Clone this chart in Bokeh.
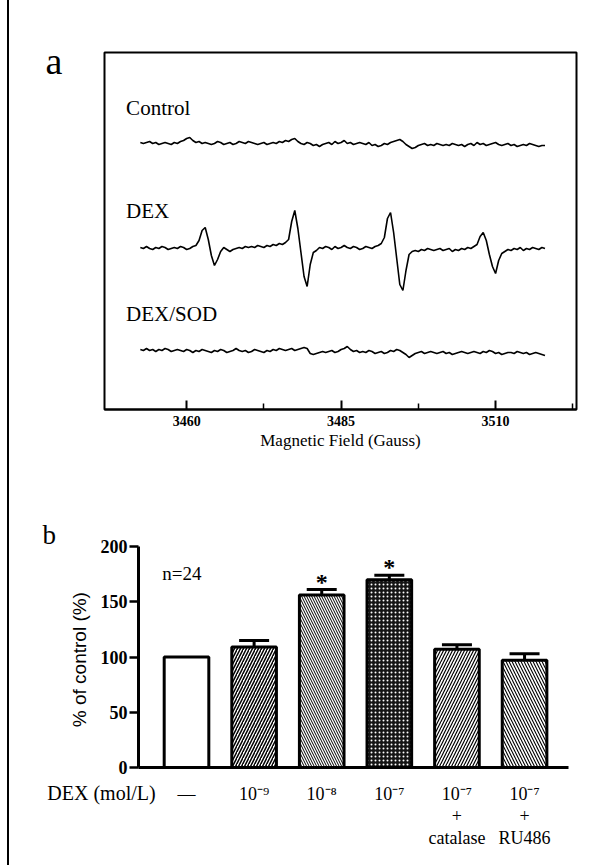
import numpy as np
from bokeh.plotting import figure
from bokeh.models import ColumnDataSource, FixedTicker, Label, Whisker, TeeHead, Range1d
from bokeh.embed import file_html
from bokeh.resources import INLINE
from bokeh.core.properties import value

SERIF = "Liberation Serif"
SANS = "Liberation Sans"

# ---------------- Panel a: EPR spectra ----------------
FIELD_START = 3452.5   # Gauss, first sample of the sweep
FIELD_STEP = 0.5       # Gauss per sample

# signal offsets (arbitrary units, up = positive)
control_trace = [
    1, 0, 1, 2, 0, 1, -1, 0, 1, 0, -1, 1,
    0, 2, 3, 5, 6, 3, 1, 2, 0, 1, 0, -1,
    0, 2, 1, -1, 0, 1, -1, 0, 2, 1, 0, 2,
    1, 0, -1, 0, 1, -1, 0, 1, 0, 2, 1, 3,
    2, 4, 5, 2, 0, -1, 1, 0, -2, -1, -3, -1,
    0, 1, -1, 2, 0, 1, 3, 0, 1, -1, 0, 1,
    0, -1, 1, -2, -1, -3, -2, 0, -1, 1, 2, 3,
    4, 2, -1, -3, -5, -4, -2, -1, 0, -2, -1, -2,
    0, -1, -2, -1, -2, 0, -1, -2, -1, -3, -1, 0,
    -2, 1, -1, 0, -2, -1, 0, 1, -1, -2, -1, 0,
    -2, -1, -3, -2, -1, -2, 0, -1, -2, -3, -2, -2,
]
dex_trace = [
    1, 0, 2, 0, -1, 1, 0, 2, 1, -1, 0, 1,
    0, 2, 1, -1, 0, 2, 3, 8, 18, 21, 9, -7,
    -17, -11, -3, 1, -1, -3, -1, 0, 1, 0, 2, 1,
    2, 1, 3, 2, 1, 3, 2, 4, 3, 5, 4, 6,
    9, 27, 38, 20, -4, -28, -38, -16, -4, -2, 1, 0,
    2, 1, -1, 2, 0, 1, 3, 1, 0, 2, 1, -1,
    0, 2, 1, 0, 2, 3, 5, 11, 30, 36, 16, -10,
    -36, -42, -22, -6, -3, -2, -3, -1, -2, 0, -1, -2,
    -1, 0, -2, -1, 0, -3, -1, -2, 0, -1, 1, 0,
    2, 4, 12, 16, 8, -6, -18, -25, -12, -5, -3, -1,
    -2, 0, -1, 1, -2, 0, -1, 1, 0, -1, 1, 0,
]
dexsod_trace = [
    2, 1, 3, 1, 2, 0, 2, 1, 3, 2, 0, 1,
    2, 1, 0, 2, 1, -1, 1, 0, 2, 1, 0, -1,
    1, 0, 2, 1, -1, 0, 1, 3, 1, 0, 1, -1,
    0, 2, 1, 0, -1, 1, 0, 2, 1, 3, 2, 1,
    2, 3, 1, 2, 3, 4, 3, -2, -3, -2, -1, 0,
    -1, 0, 1, -1, 0, 2, 3, 5, 2, 0, 1, -1,
    0, -1, 1, 0, -2, -1, 0, -2, -1, 1, 0, 2,
    1, -1, -3, -6, -4, -2, -1, 0, -2, -1, 0, -1,
    -2, -1, 0, -2, -1, -3, -2, -1, 0, -1, -2, -1,
    0, -1, -2, 0, -1, 1, 0, -2, -1, -3, -2, -1,
    -1, -2, 0, -1, -2, -1, -3, -2, -1, -2, -3, -4,
]
trace_names = ["Control", "DEX", "DEX/SOD"]
trace_baselines = [266, 161, 58]
trace_label_y = [302, 199, 96]
trace_label_x = 3450.2
field_ticks = [3460, 3485, 3510]
field_minor_ticks = [3472.5, 3497.5, 3522.5]

# ---------------- Panel b: bar chart ----------------
conditions = ["\u2014", "10\u207b\u2079", "10\u207b\u2078", "10\u207b\u2077", "10\u207b\u2077", "10\u207b\u2077"]
additions = ["", "", "", "", "catalase", "RU486"]
percent = [100, 109, 156, 170, 107, 97]
sem = [0, 6, 5, 4, 4, 6]
significant = [False, False, True, True, False, False]
y_ticks = [0, 50, 100, 150, 200]

# styles (kept separate from data)
bar_fill = ["white", "white", "white", "#151515", "white", "white"]
bar_hatch = [" ", "/", "\\", ".", "/", "\\"]
bar_hatch_color = ["black", "black", "black", "white", "black", "black"]
bar_hatch_scale = [6, 6, 5, 4, 6, 6]
bar_hatch_weight = [1, 1.5, 1, 1, 1.2, 1.1]

PAGE_EDGE = {"border-left": "2px solid black"}

# ======================= figure a =======================
pa = figure(width=590, height=470,
            x_range=Range1d(3446.7, 3523.1), y_range=Range1d(0, 357),
            output_backend="svg", toolbar_location=None,
            title_location=None, y_axis_location=None,
            min_border_left=95, min_border_right=23,
            min_border_top=52, min_border_bottom=61,
            margin=(0, 0, 0, 7), styles=PAGE_EDGE)
pa.grid.visible = False
pa.outline_line_color = "black"
pa.outline_line_width = 2
pa.background_fill_color = "white"
pa.border_fill_color = "white"

field = FIELD_START + FIELD_STEP * np.arange(len(control_trace))
for trace, base in zip([control_trace, dex_trace, dexsod_trace], trace_baselines):
    pa.line(field, np.array(trace, dtype=float) + base, line_color="black", line_width=1.6)

pa.text(x=[trace_label_x] * 3, y=trace_label_y, text=trace_names,
        text_font=value(SERIF), text_font_size="21px",
        text_align="left", text_baseline="middle", text_color="black")

xa = pa.xaxis[0]
xa.ticker = FixedTicker(ticks=field_ticks, minor_ticks=field_minor_ticks)
xa.axis_line_width = 2
xa.major_tick_in = 9
xa.major_tick_out = 0
xa.major_tick_line_width = 2
xa.minor_tick_in = 6
xa.minor_tick_out = 0
xa.minor_tick_line_width = 1.5
xa.major_label_text_font = SERIF
xa.major_label_text_font_style = "bold"
xa.major_label_text_font_size = "14px"
xa.major_label_text_color = "black"
xa.major_label_standoff = 6
xa.axis_label = "Magnetic Field (Gauss)"
xa.axis_label_text_font = SERIF
xa.axis_label_text_font_style = "normal"
xa.axis_label_text_font_size = "17px"
xa.axis_label_text_color = "black"
xa.axis_label_standoff = 2

# panel letter, placed in the top side panel (coordinates relative to that panel)
pa.add_layout(Label(x=-59, y=-8, x_units="screen", y_units="screen", text="a",
                    text_font=SERIF, text_font_size="38px", text_baseline="alphabetic",
                    text_color="black"), "above")

# ======================= figure b =======================
pb = figure(width=590, height=395,
            x_range=Range1d(0.29, 6.65), y_range=Range1d(0, 200),
            output_backend="svg", toolbar_location=None,
            title_location=None,
            min_border_left=129, min_border_right=31,
            min_border_top=76, min_border_bottom=98,
            margin=(0, 0, 0, 7), styles=PAGE_EDGE)
pb.grid.visible = False
pb.outline_line_color = None
pb.background_fill_color = "white"
pb.border_fill_color = "white"

xs = list(range(1, len(percent) + 1))
src = ColumnDataSource(dict(x=xs, top=percent, fill=bar_fill, hatch=bar_hatch,
                            hcolor=bar_hatch_color, hscale=bar_hatch_scale,
                            hweight=bar_hatch_weight))
pb.vbar(x="x", top="top", bottom=0, width=0.66, source=src,
        fill_color="fill", hatch_pattern="hatch", hatch_color="hcolor",
        hatch_scale="hscale", hatch_weight="hweight",
        line_color="black", line_width=3)

ex = [x for x, e in zip(xs, sem) if e > 0]
elo = [v for v, e in zip(percent, sem) if e > 0]
ehi = [v + e for v, e in zip(percent, sem) if e > 0]
esrc = ColumnDataSource(dict(x=ex, lower=elo, upper=ehi))
pb.add_layout(Whisker(base="x", lower="lower", upper="upper", source=esrc,
                      dimension="height", line_color="black", line_width=3,
                      upper_head=TeeHead(size=30, line_width=3, line_color="black"),
                      lower_head=None, level="overlay"))

sx = [x for x, s in zip(xs, significant) if s]
sy = [v + e for v, e, s in zip(percent, sem, significant) if s]
pb.text(x=sx, y=sy, text=["*"] * len(sx), text_font=value(SERIF),
        text_font_style="bold", text_font_size="24px", y_offset=-8,
        text_align="center", text_baseline="alphabetic", text_color="black")

pb.add_layout(Label(x=0.93, y=175.5, text="n=24", text_font=SERIF, text_font_size="19px",
                    text_align="center", text_baseline="alphabetic", text_color="black"))

tick_text = [c + ("\n+\n" + a if a else "") for c, a in zip(conditions, additions)]

xb = pb.xaxis[0]
xb.ticker = FixedTicker(ticks=xs)
xb.major_label_overrides = {x: t for x, t in zip(xs, tick_text)}
xb.axis_line_width = 3
xb.major_tick_in = 0
xb.major_tick_out = 0
xb.minor_tick_line_color = None
xb.major_label_text_font = SERIF
xb.major_label_text_font_size = "18px"
xb.major_label_text_line_height = 1.1
xb.major_label_text_color = "black"
xb.major_label_standoff = 16

yb = pb.yaxis[0]
yb.ticker = FixedTicker(ticks=y_ticks)
yb.axis_line_width = 3
yb.major_tick_in = 0
yb.major_tick_out = 9
yb.major_tick_line_width = 2.5
yb.minor_tick_line_color = None
yb.major_label_text_font = SERIF
yb.major_label_text_font_style = "bold"
yb.major_label_text_font_size = "18px"
yb.major_label_text_color = "black"
yb.major_label_standoff = 2
yb.axis_label = "%  of control (%)"
yb.axis_label_text_font = SANS
yb.axis_label_text_font_style = "normal"
yb.axis_label_text_font_size = "19px"
yb.axis_label_text_color = "black"
yb.axis_label_standoff = 8

# row title for the treatment labels; it sits in the top side panel (closest to
# the frame) so it takes no room from the bottom panel, and is drawn below it
pb.add_layout(Label(x=-37, y=-246, x_units="screen", y_units="screen", text="DEX (mol/L)",
                    text_font=SERIF, text_font_size="20px",
                    text_align="center", text_baseline="middle", text_color="black"), "above")
pb.add_layout(Label(x=-96, y=-10, x_units="screen", y_units="screen", text="b",
                    text_font=SERIF, text_font_size="27px", text_baseline="alphabetic",
                    text_color="black"), "above")

p = [pa, pb]
open("out.html", "w").write(file_html(p, INLINE))
